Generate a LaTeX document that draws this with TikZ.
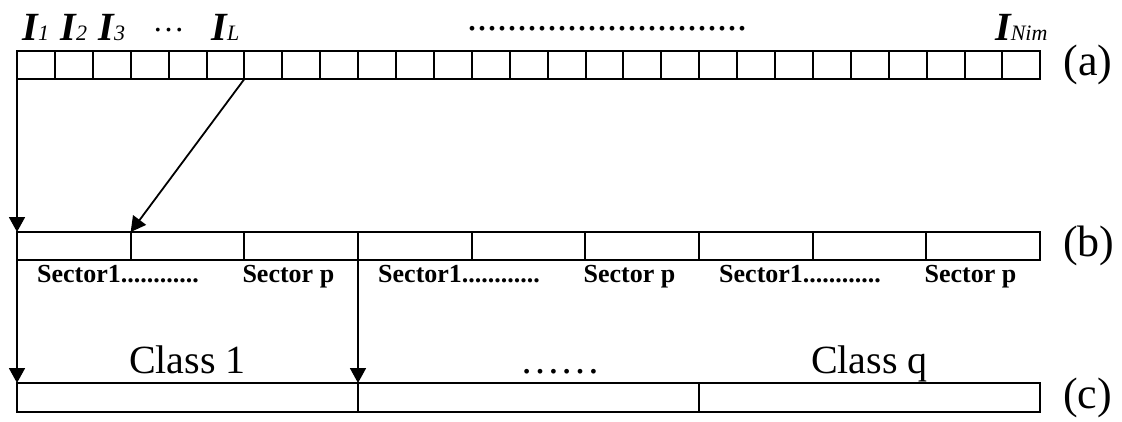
\documentclass[tikz,border=0pt]{standalone}
\usepackage{fontspec}
\setmainfont{Liberation Serif}
\usetikzlibrary{arrows.meta}

\newcommand{\imgidx}[1]{{\bfseries\itshape I}{\itshape\fontsize{22}{22}\selectfont #1}}

\begin{document}
\begin{tikzpicture}[
		x=1pt,y=-1pt,
		cell/.style={draw,line width=2pt,inner sep=0pt,outer sep=0pt,minimum height=28pt},
		big/.style={font=\fontsize{40}{48}\selectfont,inner sep=0pt},
		tag/.style={font=\fontsize{44}{50}\selectfont,inner sep=0pt,anchor=west},
		sector/.style={font=\bfseries\fontsize{26}{30}\selectfont,inner sep=0pt,anchor=base west},
		arr/.style={line width=1.8pt,-{Triangle[length=15pt,width=16pt]}},
	]
	\useasboundingbox (0,0) rectangle (1122,421);
	% row (a): single images
	\foreach \i in {1,...,27}
		\node[cell,minimum width=37.9pt] (a\i) at ({17+37.9*(\i-0.5)},65) {};
	% row (b): sectors
	\foreach \i in {1,...,9}
		\node[cell,minimum width=113.67pt] (b\i) at ({17+113.67*(\i-0.5)},246) {};
	% row (c): classes
	\foreach \i in {1,...,3}
		\node[cell,minimum width=341pt,minimum height=29pt] (c\i) at ({17+341*(\i-0.5)},397.5) {};

	% image names
	\node[big,anchor=base] (i1) at ([yshift=11pt]a1.north) {\imgidx{1}};
	\node[big,anchor=base] (i2) at ([yshift=11pt]a2.north) {\imgidx{2}};
	\node[big,anchor=base] (i3) at ([yshift=11pt]a3.north) {\imgidx{3}};
	\node[inner sep=0pt,anchor=base,font=\fontsize{32}{32}\selectfont] (idots) at ([yshift=20pt]a4.north east) {…};
	\node[big,anchor=base] (iL) at ([yshift=11pt]a6.north) {\imgidx{L}};
	\node[big,anchor=base] (gap) at ([xshift=3pt,yshift=21pt]a16.north) {............................};
	\node[big,anchor=base] (iN) at ([yshift=11pt]a27.north) {\imgidx{Nim}};

	% sector names
	\foreach \k in {1,4,7} {
		\node[sector] at ([xshift=20pt,yshift=-22pt]b\k.south west) {Sector1............};
	}
	\foreach \k in {3,6,9} {
		\node[sector] at ([xshift=-2pt,yshift=-22pt]b\k.south west) {Sector p};
	}

	% class names
	\node[big,anchor=base] (k1) at ([yshift=10pt]c1.north) {Class 1};
	\node[big,anchor=base] (kdots) at ([xshift=32pt,yshift=10pt]c2.north) {……};
	\node[big,anchor=base] (kq) at ([yshift=10pt]c3.north) {Class q};

	% row tags
	\node[tag] (ta) at ([xshift=23pt]a27.east) {(a)};
	\node[tag] (tb) at ([xshift=23pt]b9.east) {(b)};
	\node[tag] (tc) at ([xshift=23pt]c3.east) {(c)};

	% arrows
	\draw[arr] (a1.south west) -- (b1.north west);
	\draw[arr] (a6.south east) -- (b2.north west);
	\draw[arr] (b1.south west) -- (c1.north west);
	\draw[arr] (b3.south east) -- (c2.north west);
\end{tikzpicture}
\end{document}
